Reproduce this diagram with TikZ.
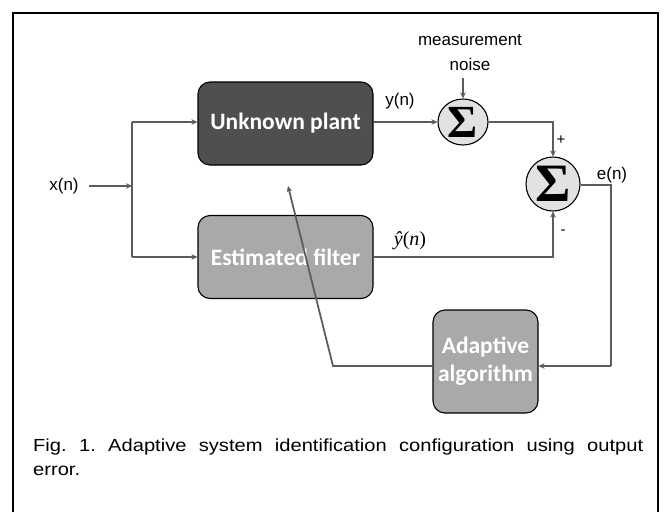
\documentclass[tikz,border=0pt]{standalone}
\usepackage{fontspec}
\setmainfont{Liberation Sans}
\newfontfamily\boxfont{Carlito}
\newfontfamily\sigfont{Liberation Serif}
\newfontfamily\capfont{Liberation Sans}[FakeStretch=1.15]
\usetikzlibrary{arrows.meta,shapes.geometric}
\definecolor{darkbox}{HTML}{4F4F4F}
\definecolor{lightbox}{HTML}{A9A9A9}
\definecolor{sumfill}{HTML}{E2E2E2}
\definecolor{linegray}{HTML}{5C5C5C}
\newcommand{\sigmasym}[1]{{\sigfont\bfseries\fontsize{#1}{#1}\selectfont Σ}}
\begin{document}
\begin{tikzpicture}[x=1pt,y=-1pt,
  wire/.style={draw=linegray, line width=1.8pt},
  conn/.style={wire, -{Stealth[length=6pt,width=5.5pt]}},
  block/.style={draw=black, line width=1.1pt, rounded corners=12pt,
    minimum width=175pt, minimum height=83pt, text=white,
    font=\boxfont\bfseries\fontsize{23.5}{28}\selectfont, align=center, inner sep=2pt},
  darkblock/.style={block, fill=darkbox},
  lightblock/.style={block, fill=lightbox},
  sumnode/.style={ellipse, draw=black, line width=1.1pt, fill=sumfill, inner sep=0pt},
  lbl/.style={font=\fontsize{17}{21}\selectfont, inner sep=2pt},
  sign/.style={font=\fontsize{15}{18}\selectfont, inner sep=1pt}]
\useasboundingbox (0,0) rectangle (664,512);
\fill[white] (0,0) rectangle (664,512);
\draw[line width=2pt] (12.5,512) -- (12.5,12.5) -- (658,12.5) -- (658,512);

% blocks
\node[darkblock] (plant) at (285.5,123.5) {Unknown plant};
\node[lightblock] (est) at (285.5,257) {Estimated filter};
\node[lightblock, minimum width=105pt, minimum height=103pt] (adapt) at (485.5,361.5) {Adaptive\\algorithm};

% summing junctions
\node[sumnode, minimum width=50pt, minimum height=46pt] (s1) at (463,122) {\sigmasym{46}};
\node[sumnode, minimum width=54pt, minimum height=54pt] (s2) at (553,184) {\sigmasym{54}};

% labels
\node[lbl] (xn) at (64,186) {x(n)};
\node[lbl] (yn) at (400,101) {y(n)};
\node[inner sep=1pt, font=\sigfont\fontsize{20}{22}\selectfont] (yhat) at (410,241) {\textit{ŷ}(\textit{n})};
\node[lbl] (en) at (612,175) {e(n)};
\node[lbl, align=center, font=\fontsize{17}{25}\selectfont] (noise) at (470,53) {measurement\\noise};
\node[sign] (plus) at (561,140) {+};
\node[sign] (minus) at (563,232) {-};

% caption
\node[anchor=north west, text width=610pt, align=justify, inner sep=0pt,
  font=\capfont\fontsize{17.5}{24}\selectfont] (cap) at (33,439)
  {\frenchspacing Fig. 1. Adaptive system identification configuration using output\linebreak error.};

% helper coordinates
\coordinate (xstart) at (89,186);
\coordinate (split) at (132,186);
\coordinate (ctop) at (132,122);
\coordinate (cbot) at (132,257);
\coordinate (s1r) at (553,122);
\coordinate (yh) at (553,257);
\coordinate (eR) at (611,185);
\coordinate (eB) at (611,366);
\coordinate (fbk) at (333,366);
\coordinate (tip) at (288,186);
\coordinate (nstart) at (463,78);

% connectors
\draw[conn] (xstart) -- (split);
\draw[wire] (ctop) -- (cbot);
\draw[conn] (ctop) -- (plant.west |- ctop);
\draw[conn] (cbot) -- (est.west |- cbot);
\draw[conn] (plant.east |- s1.west) -- (s1.west);
\draw[conn] (nstart) -- (s1.north);
\draw[conn] (s1.east) -- (s1r) -- (s2.north);
\draw[conn] (est.east |- yh) -- (yh) -- (s2.south);
\draw[wire] (s2.east |- eR) -- (eR) -- (eB);
\draw[conn] (eB) -- (adapt.east |- eB);
\draw[conn] (adapt.west |- fbk) -- (fbk) -- (tip);
\end{tikzpicture}
\end{document}
